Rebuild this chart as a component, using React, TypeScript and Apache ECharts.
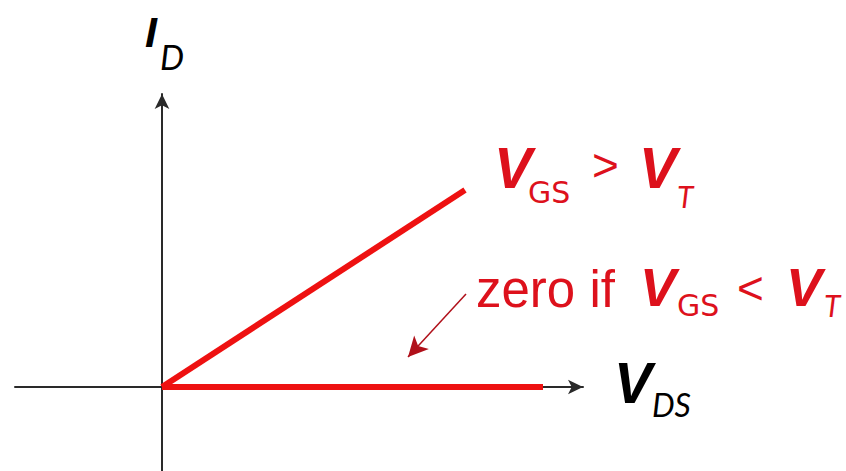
import React, { useEffect, useRef } from "react";
import * as echarts from "echarts";

// Axis extents (arbitrary units, origin at 0,0)
const xRange = [-14.7, 42.1];
const yRange = [-8.4, 29.3];

// Characteristic curves
const aboveThreshold: [number, number][] = [
  [0, 0],
  [30.3, 19.7],
];
const belowThreshold: [number, number][] = [
  [0, 0],
  [38.1, 0],
];
// Annotation arrow pointing at the zero curve
const annotationArrow: [number, number][] = [
  [30.4, 9.3],
  [24.6, 3.0],
];

const RED_LINE = "#ee1111";
const RED_TEXT = "#dd111c";
const AXIS = "#2a2a2a";

const SANS = '"Liberation Sans", Arial, sans-serif';
const SUB = 'Lato, "Open Sans", sans-serif';
const SUBW = '"DejaVu Sans", Verdana, sans-serif';

type Piece = { t: string; x: number; y: number; font: string; fill: string };

const labels: Piece[] = [
  // I_D
  { t: "I", x: 145, y: 32, font: `italic bold 43px ${SANS}`, fill: "#000" },
  { t: "D", x: 160, y: 56, font: `italic 34px ${SUB}`, fill: "#000" },
  // V_GS > V_T
  { t: "V", x: 494, y: 168, font: `italic bold 57px ${SANS}`, fill: RED_TEXT },
  { t: "GS", x: 528, y: 192, font: `30px ${SUBW}`, fill: RED_TEXT },
  { t: ">", x: 592, y: 165, font: `46px ${SANS}`, fill: RED_TEXT },
  { t: "V", x: 639, y: 168, font: `italic bold 57px ${SANS}`, fill: RED_TEXT },
  { t: "T", x: 677, y: 196, font: `italic 30px ${SUB}`, fill: RED_TEXT },
  // zero if V_GS < V_T
  { t: "zero if", x: 476, y: 289, font: `51px ${SANS}`, fill: RED_TEXT },
  { t: "V", x: 640, y: 287, font: `italic bold 54px ${SANS}`, fill: RED_TEXT },
  { t: "GS", x: 677, y: 305, font: `30px ${SUBW}`, fill: RED_TEXT },
  { t: "<", x: 737, y: 288, font: `46px ${SANS}`, fill: RED_TEXT },
  { t: "V", x: 786, y: 287, font: `italic bold 54px ${SANS}`, fill: RED_TEXT },
  { t: "T", x: 824, y: 305, font: `italic 30px ${SUB}`, fill: RED_TEXT },
  // V_DS
  { t: "V", x: 614, y: 383, font: `italic bold 57px ${SANS}`, fill: "#000" },
  { t: "DS", x: 652, y: 404, font: `italic 32px ${SUB}`, fill: "#000" },
];

export default function App() {
  const ref = useRef<HTMLDivElement>(null);

  useEffect(() => {
    if (!ref.current) return;
    const chart = echarts.init(ref.current, null, { renderer: "svg" });
    const axisCommon = {
      type: "value" as const,
      axisLine: {
        show: true,
        onZero: true,
        symbol: ["none", "arrow"],
        symbolSize: [11, 15],
        lineStyle: { color: AXIS, width: 2 },
      },
      axisTick: { show: false },
      axisLabel: { show: false },
      splitLine: { show: false },
    };
    chart.setOption({
      animation: false,
      backgroundColor: "#ffffff",
      grid: { left: 15, right: 263, top: 94, bottom: 0 },
      xAxis: { ...axisCommon, min: xRange[0], max: xRange[1] },
      yAxis: { ...axisCommon, min: yRange[0], max: yRange[1] },
      series: [
        {
          type: "line",
          data: aboveThreshold,
          symbol: "none",
          lineStyle: { color: RED_LINE, width: 6, cap: "butt" },
          z: 3,
        },
        {
          type: "line",
          data: belowThreshold,
          symbol: "none",
          lineStyle: { color: RED_LINE, width: 6, cap: "butt" },
          z: 3,
          markLine: {
            silent: true,
            symbol: ["none", "arrow"],
            symbolSize: [15, 20],
            label: { show: false },
            lineStyle: { color: "#b0101a", width: 1.5, type: "solid" },
            itemStyle: { color: RED_LINE },
            data: [
              [
                { coord: annotationArrow[0] },
                { coord: annotationArrow[1], itemStyle: { color: RED_LINE } },
              ],
            ],
          },
        },
      ],
      graphic: labels.map((p) => ({
        type: "text",
        x: p.x,
        y: p.y,
        silent: true,
        style: {
          text: p.t,
          font: p.font,
          fill: p.fill,
          align: "left",
          verticalAlign: "middle",
        },
      })),
    });
    return () => chart.dispose();
  }, []);

  return (
    <div
      ref={ref}
      style={{ position: "fixed", left: 0, top: 0, width: 846, height: 471 }}
    />
  );
}
